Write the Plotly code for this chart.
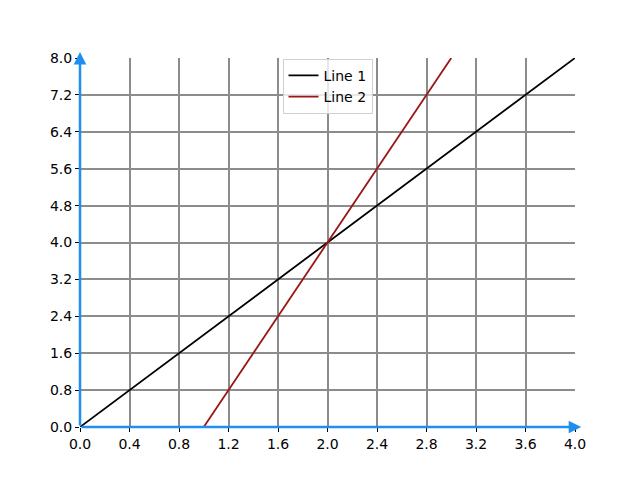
import plotly.graph_objects as go

# data
x1 = [0.0, 4.0]
y1 = [0.0, 8.0]
x2 = [1.0, 3.0]
y2 = [0.0, 8.0]
xticks = [0.0, 0.4, 0.8, 1.2, 1.6, 2.0, 2.4, 2.8, 3.2, 3.6, 4.0]
yticks = [0.0, 0.8, 1.6, 2.4, 3.2, 4.0, 4.8, 5.6, 6.4, 7.2, 8.0]

fig = go.Figure()
fig.add_trace(go.Scatter(x=x1, y=y1, mode="lines", name="Line 1",
                         line=dict(color="black", width=1.8)))
fig.add_trace(go.Scatter(x=x2, y=y2, mode="lines", name="Line 2",
                         line=dict(color="#9b1515", width=1.8)))

axis_style = dict(showgrid=True, gridcolor="#8c8c8c", gridwidth=1.6,
                  zeroline=False, showline=False, ticks="outside",
                  ticklen=4, tickcolor="black", tickwidth=1,
                  tickfont=dict(family="DejaVu Sans", size=14, color="black"))

fig.update_xaxes(range=[0, 4], tickvals=xticks,
                 ticktext=["%.1f" % v for v in xticks], **axis_style)
fig.update_yaxes(range=[0, 8], tickvals=yticks,
                 ticktext=["%.1f" % v for v in yticks], **axis_style)

# blue spines, arrow tips sticking a little past the axis ends
for (xe, ye) in [(4.05, 0), (0, 8.13)]:
    fig.add_annotation(x=xe, y=ye, ax=0, ay=0, xref="x", yref="y",
                       axref="x", ayref="y", text="", showarrow=True,
                       arrowhead=2, arrowsize=1.0, arrowwidth=2.5,
                       arrowcolor="#1e8ff0")

fig.update_layout(
    width=640, height=480,
    margin=dict(l=72, r=73, t=50, b=61),
    plot_bgcolor="white", paper_bgcolor="white",
    font=dict(family="DejaVu Sans", size=14, color="black"),
    legend=dict(x=0.5, y=0.998, xanchor="center", yanchor="top",
                bgcolor="rgba(255,255,255,0.8)", bordercolor="#d0d0d0",
                borderwidth=1, font=dict(size=14)),
)

fig.write_html("out.html")
